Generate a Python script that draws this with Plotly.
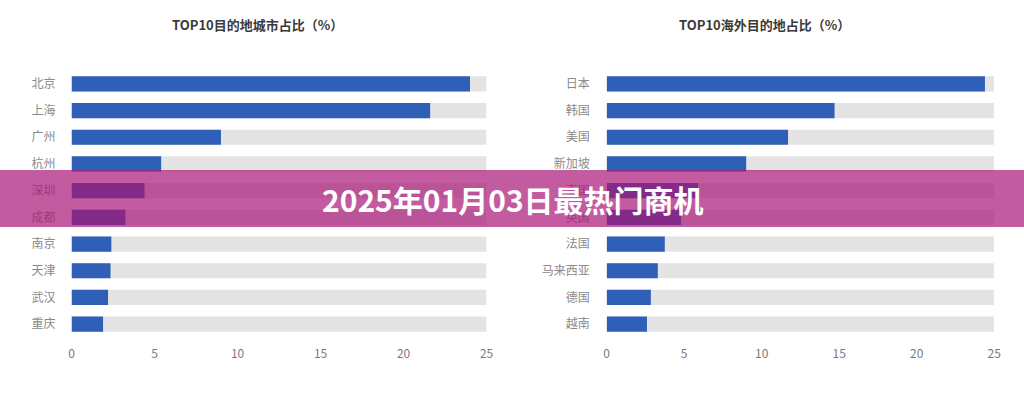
import plotly.graph_objects as go

W, H = 1024, 399

city_labels = ["北京", "上海", "广州", "杭州", "深圳", "成都", "南京", "天津", "武汉", "重庆"]
city_values = [24.0, 21.6, 9.0, 5.4, 4.4, 3.25, 2.4, 2.35, 2.2, 1.9]

abroad_labels = ["日本", "韩国", "美国", "新加坡", "泰国", "英国", "法国", "马来西亚", "德国", "越南"]
abroad_values = [24.4, 14.7, 11.7, 9.0, 5.9, 4.8, 3.75, 3.3, 2.85, 2.6]

axis_max = 25
tick_vals = [0, 5, 10, 15, 20, 25]

title_left = "TOP10目的地城市占比（%）"
title_right = "TOP10海外目的地占比（%）"
banner_text = "2025年01月03日最热门商机"

BLUE = "#2f5fb6"
GREY = "#e4e4e4"
FONT = "Noto Sans CJK SC"

fig = go.Figure()

for labels, values, xa, ya in [(city_labels, city_values, "x", "y"),
                               (abroad_labels, abroad_values, "x2", "y2")]:
    fig.add_trace(go.Bar(y=labels, x=[axis_max] * len(labels), orientation="h",
                         marker=dict(color=GREY, line=dict(width=0)),
                         xaxis=xa, yaxis=ya, showlegend=False, hoverinfo="skip"))
    fig.add_trace(go.Bar(y=labels, x=values, orientation="h",
                         marker=dict(color=BLUE, line=dict(width=0)),
                         xaxis=xa, yaxis=ya, showlegend=False))

def px_x(p):
    # slight compensation for the horizontal scaling seen in the rendered picture
    return (p - 2.5) / 0.99 / W

def px_y(p):
    return 1 - p / H

ydom = [px_y(337.5), px_y(70.5)]
xcommon = dict(range=[0, axis_max], tickvals=tick_vals, showgrid=False, zeroline=False,
               showline=False, ticks="", tickfont=dict(size=12, color="#7a7a7a", family=FONT),
               fixedrange=True, ticklabelstandoff=7)
ycommon = dict(autorange="reversed", showgrid=False, zeroline=False, showline=False, ticks="",
               tickfont=dict(size=12, color="#8a8a8a", family=FONT), fixedrange=True,
               domain=ydom)

fig.update_layout(
    width=W, height=H, autosize=False,
    margin=dict(l=0, r=0, t=0, b=0),
    paper_bgcolor="white", plot_bgcolor="white",
    barmode="overlay", bargap=0.43,
    font=dict(family=FONT),
    xaxis=dict(domain=[px_x(71), px_x(486)], anchor="y", **xcommon),
    yaxis=dict(anchor="x", ticklabelstandoff=15, **ycommon),
    xaxis2=dict(domain=[px_x(606), px_x(993.5)], anchor="y2", **xcommon),
    yaxis2=dict(anchor="x2", ticklabelstandoff=16, **ycommon),
    showlegend=False,
)

fig.add_annotation(text="<b>" + title_left + "</b>", x=px_x(257), y=px_y(25), xref="paper", yref="paper",
                   showarrow=False, font=dict(size=13, color="#3a3a3a", family=FONT),
                   xanchor="center", yanchor="middle")
fig.add_annotation(text="<b>" + title_right + "</b>", x=px_x(764), y=px_y(25), xref="paper", yref="paper",
                   showarrow=False, font=dict(size=13, color="#3a3a3a", family=FONT),
                   xanchor="center", yanchor="middle")

fig.add_shape(type="rect", xref="paper", yref="paper", x0=-0.01, x1=1.01,
              y0=px_y(227), y1=px_y(170), fillcolor="rgba(168,22,119,0.7)",
              line=dict(width=0), layer="above")

fig.add_annotation(text="<b>" + banner_text + "</b>", x=px_x(512), y=px_y(199), xref="paper", yref="paper",
                   showarrow=False, font=dict(size=30, color="white", family=FONT),
                   xanchor="center", yanchor="middle")

fig.write_html("out.html",
               config={"displayModeBar": False, "responsive": False, "staticPlot": True})

with open("out.html", encoding="utf-8") as f:
    html = f.read()
html = html.replace("<head>", "<head><style>html,body{margin:0;padding:0;overflow:hidden;width:1024px;height:399px;}</style>", 1)
with open("out.html", "w", encoding="utf-8") as f:
    f.write(html)
